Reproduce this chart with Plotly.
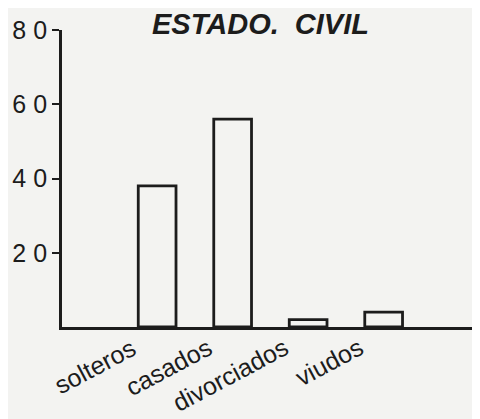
import plotly.graph_objects as go

categories = ["solteros", "casados", "divorciados", "viudos"]
values = [38, 56, 2, 4]
y_ticks = [20, 40, 60, 80]
y_tick_labels = ["2 0", "4 0", "6 0", "8 0"]
title_text = "ESTADO.  CIVIL"

bg = "#f3f3f1"
ink = "#1c1c1c"
font_family = "Liberation Sans, Arial, sans-serif"

idx = list(range(len(categories)))

fig = go.Figure()
fig.add_trace(go.Bar(
    x=idx, y=values, width=0.5,
    marker=dict(color=bg, line=dict(color=ink, width=2.8)),
    showlegend=False, hoverinfo="skip",
))

for i, c in zip(idx, categories):
    fig.add_annotation(
        x=i - 0.18, y=0, xref="x", yref="y", text=c, showarrow=False,
        textangle=-28, xanchor="right", yanchor="top", yshift=-3,
        font=dict(family=font_family, size=25, color=ink),
    )

fig.add_annotation(
    xref="paper", yref="paper", x=(260 - 62) / 413, y=1 + (30 - 24) / 297,
    text="<b><i>" + title_text + "</i></b>",
    showarrow=False, xanchor="center", yanchor="middle",
    font=dict(family=font_family, size=29, color=ink),
)

fig.update_layout(
    width=472, height=411,
    margin=dict(l=54, r=5, t=22, b=92, autoexpand=False),
    paper_bgcolor=bg, plot_bgcolor=bg,
    xaxis=dict(range=[-1.26, 4.21], showticklabels=False, ticks="", showgrid=False,
               zeroline=False, showline=True, linecolor=ink, linewidth=2.8),
    yaxis=dict(range=[0, 80], tickvals=y_ticks, ticktext=y_tick_labels,
               ticks="outside", ticklen=7, tickwidth=2.4, tickcolor=ink,
               showgrid=False, zeroline=False, showline=True, linecolor=ink, linewidth=2.8,
               tickfont=dict(family=font_family, size=25, color=ink),
               ticklabelstandoff=0),
    bargap=0.5,
)

fig.write_html("out.html")
